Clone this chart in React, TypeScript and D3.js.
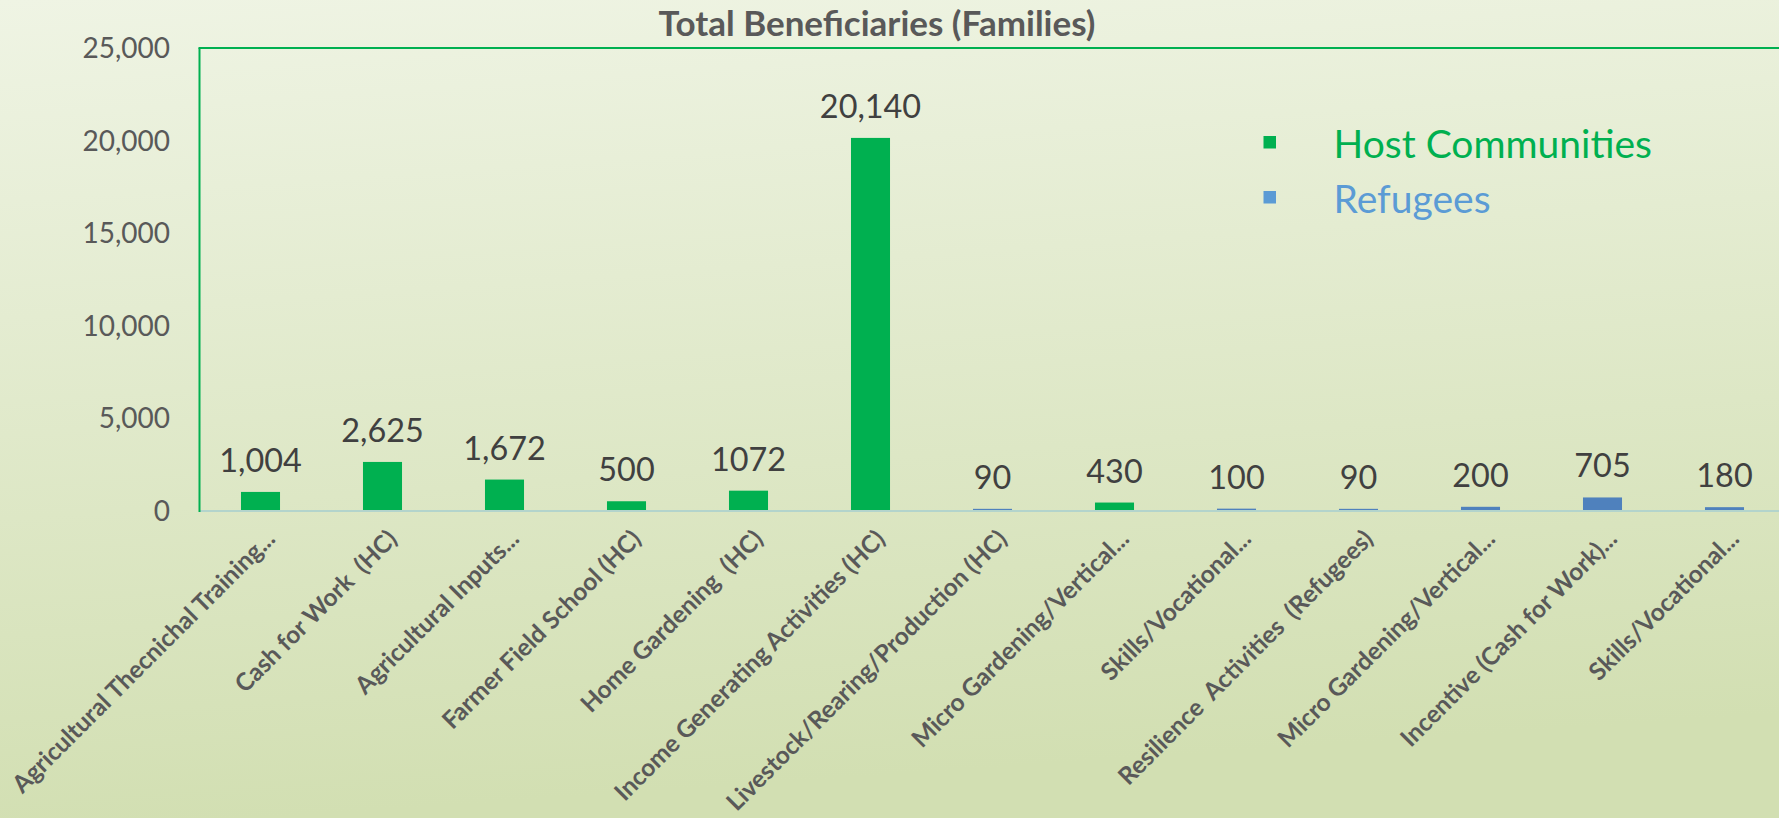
import React from "react";
import * as d3 from "d3";

const categories = [
  "Agricultural Thecnichal Training...",
  "Cash for Work  (HC)",
  "Agricultural Inputs...",
  "Farmer Field School (HC)",
  "Home Gardening  (HC)",
  "Income Generating Activities (HC)",
  "Livestock/Rearing/Production (HC)",
  "Micro Gardening/Vertical...",
  "Skills/Vocational...",
  "Resilience  Activities  (Refugees)",
  "Micro Gardening/Vertical...",
  "Incentive (Cash for Work)...",
  "Skills/Vocational...",
];
const values = [1004, 2625, 1672, 500, 1072, 20140, 90, 430, 100, 90, 200, 705, 180];
const valueLabels = ["1,004", "2,625", "1,672", "500", "1072", "20,140", "90", "430", "100", "90", "200", "705", "180"];
const series = ["HC", "HC", "HC", "HC", "HC", "HC", "R", "HC", "R", "R", "R", "R", "R"];
const yTicks = [0, 5000, 10000, 15000, 20000, 25000];
const legendItems = ["Host Communities", "Refugees"];

const W = 1779;
const H = 818;
const FONT = "Lato, 'Open Sans', sans-serif";
const GREEN = "#00b050";
const BLUE_BAR = "#4f81bd";
const BLUE_LEG = "#5b9bd5";
const GRAY = "#595959";
const DARK = "#404040";

export default function App() {
  const left = 199.5;
  const step = 122;
  const x = d3
    .scaleBand<number>()
    .domain(categories.map((_, i) => i))
    .range([left, left + step * categories.length])
    .paddingInner(0.68)
    .paddingOuter(0.34);
  const y = d3.scaleLinear().domain([0, 25000]).range([510.5, 48]);
  const fmt = d3.format(",");
  const top = y(25000);
  const base = y(0);

  return (
    <div>
      <style>{`body{margin:0;}`}</style>
      <svg width={W} height={H} style={{ display: "block" }}>
        <defs>
          <linearGradient id="bg" x1="0" y1="0" x2="0.15" y2="1">
            <stop offset="0" stopColor="#eff4e4" />
            <stop offset="1" stopColor="#d2dfb2" />
          </linearGradient>
        </defs>
        <rect x={0} y={0} width={W} height={H} fill="url(#bg)" />

        {/* title */}
        <text x={877} y={36} textAnchor="middle" fontFamily={FONT} fontWeight="bold" fontSize={35} fill={GRAY}>
          Total Beneficiaries (Families)
        </text>

        {/* y ticks */}
        {yTicks.map((t) => (
          <text key={t} x={170} y={y(t)} dy="0.36em" textAnchor="end" fontFamily={FONT} fontSize={28} fill={GRAY}>
            {fmt(t)}
          </text>
        ))}

        {/* bars */}
        {values.map((v, i) => (
          <rect
            key={i}
            x={x(i)!}
            y={y(v)}
            width={x.bandwidth()}
            height={base - y(v)}
            fill={series[i] === "HC" ? GREEN : BLUE_BAR}
          />
        ))}

        {/* axis lines */}
        <line x1={left} x2={W} y1={base + 0.5} y2={base + 0.5} stroke="#b3d4cc" strokeWidth={2} />
        <line x1={left} x2={left} y1={top} y2={base + 1.5} stroke={GREEN} strokeWidth={2} />
        <line x1={left - 1} x2={W} y1={top} y2={top} stroke={GREEN} strokeWidth={2} />

        {/* value labels */}
        {values.map((v, i) => (
          <text
            key={i}
            x={x(i)! + x.bandwidth() / 2}
            y={y(v) - 20}
            textAnchor="middle"
            fontFamily={FONT}
            fontSize={32.4}
            fill={DARK}
          >
            {valueLabels[i]}
          </text>
        ))}

        {/* category labels */}
        {categories.map((c, i) => {
          const cx = x(i)! + x.bandwidth() / 2 + 16;
          const cy = base + 30;
          return (
            <text
              key={i}
              transform={`translate(${cx},${cy}) rotate(-45)`}
              textAnchor="end"
              fontFamily={FONT}
              fontWeight="bold"
              fontSize={24.5}
              fill={GRAY}
              style={{ whiteSpace: "pre" }}
            >
              {c}
            </text>
          );
        })}

        {/* legend */}
        {legendItems.map((l, i) => (
          <g key={l} transform={`translate(1263.5,${136 + i * 55})`}>
            <rect x={0} y={0} width={12.5} height={12.5} fill={i === 0 ? GREEN : BLUE_LEG} />
            <text x={70} y={22} fontFamily={FONT} fontSize={39} fill={i === 0 ? GREEN : BLUE_LEG}>
              {l}
            </text>
          </g>
        ))}
      </svg>
    </div>
  );
}
